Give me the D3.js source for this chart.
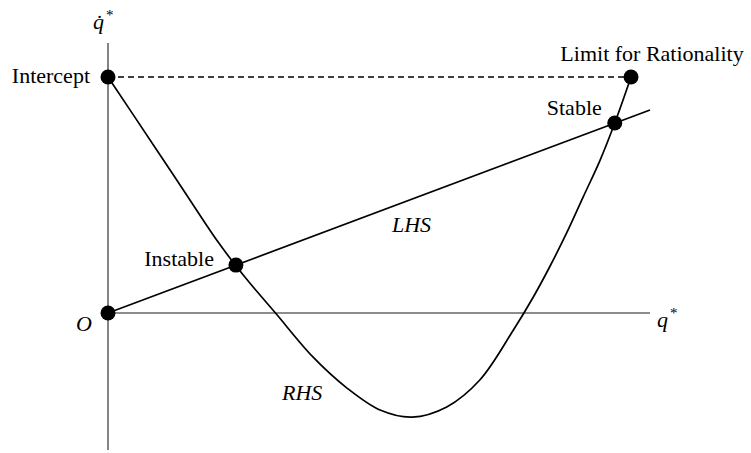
<!DOCTYPE html>
<html>
<head>
<meta charset="utf-8">
<script src="https://cdn.jsdelivr.net/npm/d3@7/dist/d3.min.js"></script>
<style>
  html, body { margin: 0; padding: 0; background: #fff; }
</style>
</head>
<body>
<svg id="chart" width="751" height="453"></svg>
<script>
// Right-hand side curve (q*, value) read along the plotted function
const rhsQ = [0, 8.99, 13.9, 20.05, 23.6, 26.2, 30.9, 37.8, 44.1, 50.2, 56.1, 62.5, 68.6, 74.8, 78.5, 81.5, 84.6, 87.7, 90.8, 93.5, 96.5];
const rhsV = [100, 69.1, 52.1, 30.9, 20.0, 12.6, 0, -18.6, -31.8, -41.1, -44.1, -39.8, -28.4, -7.2, 6.9, 19.6, 33.8, 49.3, 64.8, 80.5, 100];

// Left-hand side: straight line through the origin
const lhsQ = [0, 100];
const lhsV = [0, 86.0];

// Marked points
const pointNames = ["O", "Intercept", "Instable", "Stable", "Limit for Rationality"];
const pointQ = [0, 0, 23.6, 93.5, 96.5];
const pointV = [0, 100, 20.3, 80.5, 100];

// Axis extents
const qAxisRange = [0, 100];
const vAxisRange = [-58, 114.4];

// Pick the first serif face that is actually installed
function pickFont(candidates) {
  const ctx = document.createElement("canvas").getContext("2d");
  const sample = "Intercept Limit for Rationality";
  ctx.font = "40px monospace";
  const base = ctx.measureText(sample).width;
  for (const f of candidates) {
    ctx.font = `40px "${f}", monospace`;
    if (Math.abs(ctx.measureText(sample).width - base) > 0.5) return `"${f}"`;
  }
  return "serif";
}
const SERIF = pickFont(["Liberation Serif", "Times New Roman", "Tinos", "Nimbus Roman", "DejaVu Serif", "Noto Serif"]);

const svg = d3.select("#chart");
const x = d3.scaleLinear().domain([0, 100]).range([108, 650]);
const y = d3.scaleLinear().domain([0, 100]).range([313, 77]);

const axisColor = "#666";

// Axes
svg.append("line")
  .attr("x1", x(0)).attr("x2", x(0))
  .attr("y1", y(vAxisRange[0])).attr("y2", y(vAxisRange[1]))
  .attr("stroke", axisColor).attr("stroke-width", 1.6);
svg.append("line")
  .attr("x1", x(qAxisRange[0])).attr("x2", x(qAxisRange[1]))
  .attr("y1", y(0)).attr("y2", y(0))
  .attr("stroke", axisColor).attr("stroke-width", 1.6);

// Dashed line at the intercept level up to the rationality limit
svg.append("line")
  .attr("x1", x(pointQ[1])).attr("x2", x(pointQ[4]))
  .attr("y1", y(pointV[1])).attr("y2", y(pointV[4]))
  .attr("stroke", "#000").attr("stroke-width", 1.5)
  .attr("stroke-dasharray", "6,4");

// LHS line
const lhsData = lhsQ.map((q, i) => [q, lhsV[i]]);
svg.append("path")
  .datum(lhsData)
  .attr("d", d3.line().x(d => x(d[0])).y(d => y(d[1])))
  .attr("fill", "none").attr("stroke", "#000").attr("stroke-width", 1.7);

// RHS curve
const rhsData = rhsQ.map((q, i) => [q, rhsV[i]]);
svg.append("path")
  .datum(rhsData)
  .attr("d", d3.line().x(d => x(d[0])).y(d => y(d[1])).curve(d3.curveCatmullRom.alpha(0.5)))
  .attr("fill", "none").attr("stroke", "#000").attr("stroke-width", 1.7);

// Points
svg.selectAll("circle.pt")
  .data(pointQ.map((q, i) => ({ name: pointNames[i], q, v: pointV[i] })))
  .join("circle")
  .attr("class", "pt")
  .attr("cx", d => x(d.q)).attr("cy", d => y(d.v))
  .attr("r", 7.5).attr("fill", "#000");

const fs = 22;
function label(txt, px, py, anchor, italic) {
  return svg.append("text")
    .attr("x", px).attr("y", py)
    .attr("text-anchor", anchor)
    .attr("font-family", SERIF)
    .attr("font-size", fs)
    .attr("font-style", italic ? "italic" : "normal")
    .attr("fill", "#000")
    .text(txt);
}

label("Intercept", x(0) - 18, y(100) + 6, "end", false);
label("Limit for Rationality", x(96.5) + 21, y(100) - 16, "middle", false);
label("Stable", x(93.5) - 13, y(80.5) - 8, "end", false);
label("Instable", x(23.6) - 22, y(20.3) + 1, "end", false);
label("O", x(0) - 16, y(0) + 18, "end", true);
label("LHS", 392, 232, "start", true);
label("RHS", 282, 400, "start", true);

// Axis titles: q* and its time derivative
function axisTitle(px, py, base) {
  const t = svg.append("text").attr("x", px).attr("y", py)
    .attr("font-family", SERIF).attr("font-size", fs).attr("font-style", "italic");
  t.append("tspan").text(base);
  t.append("tspan").attr("dx", 2).attr("dy", -9).attr("font-size", 15).attr("font-style", "normal").text("*");
  return t;
}
axisTitle(657, 327, "q");
axisTitle(93, 29, "q\u0307");
</script>
</body>
</html>
